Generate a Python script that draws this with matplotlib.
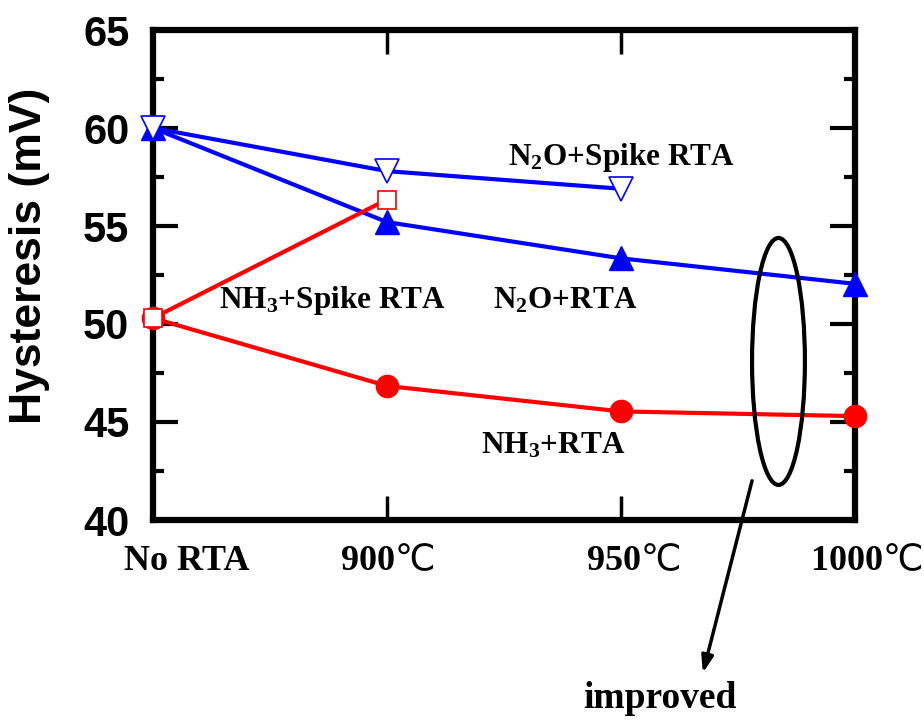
import matplotlib
matplotlib.use('Agg')
import matplotlib.pyplot as plt
from matplotlib.patches import Ellipse
from matplotlib.ticker import MultipleLocator
from matplotlib.transforms import offset_copy

conditions = ['No RTA', r'900$\mathrm{℃}$', r'950$\mathrm{℃}$', r'1000$\mathrm{℃}$']
x = [0, 1, 2, 3]

n2o_spike = [60.0, 57.8, 56.9]
n2o_rta = [60.0, 55.2, 53.35, 52.05]
nh3_spike = [50.3, 56.35]
nh3_rta = [50.3, 46.84, 45.54, 45.3]

plt.rcParams['mathtext.fontset'] = 'custom'
plt.rcParams['mathtext.rm'] = 'Noto Sans CJK SC'
plt.rcParams['mathtext.default'] = 'regular'
serif = ['Liberation Serif', 'DejaVu Serif']
sans = ['Liberation Sans', 'DejaVu Sans']

fig = plt.figure(figsize=(9.24, 7.24), dpi=100)
ax = fig.add_axes([153/924, 1-520/724, (855-153)/924, (520-30)/724])

blue = '#0000ff'
red = '#ff0000'

ax.plot(x[:len(n2o_rta)], n2o_rta, color=blue, lw=3, marker='^', ms=17, mec=blue, mfc=blue, zorder=3, clip_on=False)
ax.plot(x[:len(n2o_spike)], n2o_spike, color=blue, lw=3, marker='v', ms=17, mec=blue, mfc='white', mew=1.2, zorder=4, clip_on=False)
ax.plot(x[:len(nh3_rta)], nh3_rta, color=red, lw=3, marker='o', ms=16, mec=red, mfc=red, zorder=3, clip_on=False)
ax.plot(x[:len(nh3_spike)], nh3_spike, color=red, lw=3, marker='s', ms=13, mec=red, mfc='white', mew=1.2, zorder=4, clip_on=False)

ax.set_xlim(0, 3)
ax.set_ylim(40, 65)
ax.yaxis.set_major_locator(MultipleLocator(5))
ax.yaxis.set_minor_locator(MultipleLocator(2.5))
ax.set_xticks(x)
ax.set_xticklabels([])
# x labels drawn as texts so they can sit off-centre like the original
shifts = [34, 0, 12, 11]
for xi, lab, dx in zip(x, conditions, shifts):
    tr = offset_copy(ax.get_xaxis_transform(), fig=fig, x=dx, y=0, units='dots')
    ax.text(xi, -0.084, lab, transform=tr, family=serif, fontweight='bold', fontsize=26,
            ha='center', va='center', clip_on=False)
for lab in ax.get_yticklabels():
    lab.set_family(sans)
    lab.set_fontweight('bold')
    lab.set_fontsize(30)

ax.tick_params(axis='y', which='major', direction='in', length=18, width=3, left=True, right=True, pad=17)
ax.tick_params(axis='y', which='minor', direction='in', length=8, width=3, left=True, right=True)
ax.tick_params(axis='x', which='major', direction='in', length=17, width=2.5, top=True, bottom=True)
for s in ax.spines.values():
    s.set_linewidth(4.5)

ax.set_ylabel('Hysteresis (mV)', family=sans, fontweight='bold', fontsize=32)
ax.yaxis.set_label_coords(-0.147, 0.539)

ax.text(2.0, 58.5, 'N$_2$O+Spike RTA', family=serif, fontweight='bold', fontsize=22.5, ha='center', va='center')
ax.text(1.76, 51.2, 'N$_2$O+RTA', family=serif, fontweight='bold', fontsize=22.5, ha='center', va='center')
ax.text(0.765, 51.2, 'NH$_3$+Spike RTA', family=serif, fontweight='bold', fontsize=22.5, ha='center', va='center')
ax.text(1.71, 43.8, 'NH$_3$+RTA', family=serif, fontweight='bold', fontsize=22.5, ha='center', va='center')

ax.add_patch(Ellipse((2.673, 48.09), 0.226, 12.6, fill=False, edgecolor='black', lw=3, zorder=5))
ax.annotate('', xy=(2.35, 32.2), xytext=(2.56, 42.0),
            arrowprops=dict(arrowstyle='-|>,head_width=0.35,head_length=1.0', lw=2.5, color='black',
                            shrinkA=0, shrinkB=0),
            annotation_clip=False)
fig.text(660/924, 1-698/724, 'improved', family=serif, fontweight='bold', fontsize=27, ha='center', va='center')

fig.savefig('out.png', dpi=100)
